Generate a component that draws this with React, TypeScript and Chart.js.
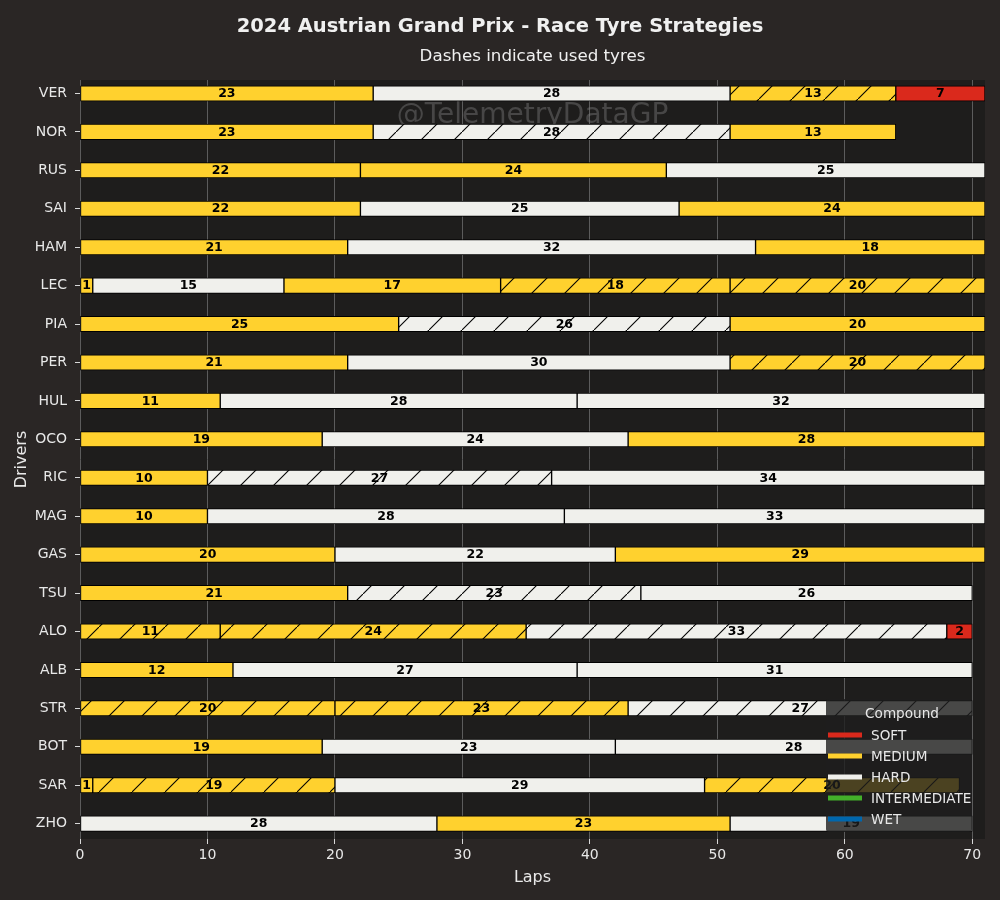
import React, { useEffect, useRef } from 'react';
import { Chart, registerables } from 'chart.js';

Chart.register(...registerables);

const drivers = ['VER', 'NOR', 'RUS', 'SAI', 'HAM', 'LEC', 'PIA', 'PER', 'HUL', 'OCO', 'RIC', 'MAG', 'GAS', 'TSU', 'ALO', 'ALB', 'STR', 'BOT', 'SAR', 'ZHO'];

const stintLaps = [
  [23, 28, 13, 7],
  [23, 28, 13],
  [22, 24, 25],
  [22, 25, 24],
  [21, 32, 18],
  [1, 15, 17, 18, 20],
  [25, 26, 20],
  [21, 30, 20],
  [11, 28, 32],
  [19, 24, 28],
  [10, 27, 34],
  [10, 28, 33],
  [20, 22, 29],
  [21, 23, 26],
  [11, 24, 33, 2],
  [12, 27, 31],
  [20, 23, 27],
  [19, 23, 28],
  [1, 19, 29, 20],
  [28, 23, 19],
];

const stintCompounds = [
  ['MEDIUM', 'HARD', 'MEDIUM', 'SOFT'],
  ['MEDIUM', 'HARD', 'MEDIUM'],
  ['MEDIUM', 'MEDIUM', 'HARD'],
  ['MEDIUM', 'HARD', 'MEDIUM'],
  ['MEDIUM', 'HARD', 'MEDIUM'],
  ['MEDIUM', 'HARD', 'MEDIUM', 'MEDIUM', 'MEDIUM'],
  ['MEDIUM', 'HARD', 'MEDIUM'],
  ['MEDIUM', 'HARD', 'MEDIUM'],
  ['MEDIUM', 'HARD', 'HARD'],
  ['MEDIUM', 'HARD', 'MEDIUM'],
  ['MEDIUM', 'HARD', 'HARD'],
  ['MEDIUM', 'HARD', 'HARD'],
  ['MEDIUM', 'HARD', 'MEDIUM'],
  ['MEDIUM', 'HARD', 'HARD'],
  ['MEDIUM', 'MEDIUM', 'HARD', 'SOFT'],
  ['MEDIUM', 'HARD', 'HARD'],
  ['MEDIUM', 'MEDIUM', 'HARD'],
  ['MEDIUM', 'HARD', 'HARD'],
  ['MEDIUM', 'MEDIUM', 'HARD', 'MEDIUM'],
  ['HARD', 'MEDIUM', 'HARD'],
];

const stintUsed = [
  [0, 0, 1, 0],
  [0, 1, 0],
  [0, 0, 0],
  [0, 0, 0],
  [0, 0, 0],
  [0, 0, 0, 1, 1],
  [0, 1, 0],
  [0, 0, 1],
  [0, 0, 0],
  [0, 0, 0],
  [0, 1, 0],
  [0, 0, 0],
  [0, 0, 0],
  [0, 1, 0],
  [1, 1, 1, 0],
  [0, 0, 0],
  [1, 1, 1],
  [0, 0, 0],
  [0, 1, 0, 1],
  [0, 0, 0],
];

const compoundNames = ['SOFT', 'MEDIUM', 'HARD', 'INTERMEDIATE', 'WET'];
const compoundColors = ['#DA291C', '#FFD12E', '#F0F0EC', '#43B02A', '#0067AD'];
const xTicks = [0, 10, 20, 30, 40, 50, 60, 70];
const lapMax = 71;

const FONT = "'DejaVu Sans', sans-serif";
const OUTER_BG = '#2a2625';
const PLOT_BG = '#1e1d1c';
const TEXT = '#e8e8e8';

export default function App() {
  const ref = useRef<HTMLCanvasElement>(null);

  useEffect(() => {
    const canvas = ref.current;
    if (!canvas) return;
    Chart.defaults.font.family = FONT;

    const patternCache: Record<string, CanvasPattern | string> = {};
    const colorOf = (c: string) => compoundColors[compoundNames.indexOf(c)] || '#888';
    const fillFor = (c: string, used: number) => {
      const base = colorOf(c);
      if (!used) return base;
      const key = c;
      if (patternCache[key]) return patternCache[key];
      const S = 33;
      const tile = document.createElement('canvas');
      tile.width = S;
      tile.height = S;
      const tc = tile.getContext('2d')!;
      tc.fillStyle = base;
      tc.fillRect(0, 0, S, S);
      tc.strokeStyle = '#000';
      tc.lineWidth = 1.1;
      tc.beginPath();
      tc.moveTo(-2, S + 2);
      tc.lineTo(S + 2, -2);
      tc.stroke();
      const ctx2 = canvas.getContext('2d')!;
      const pat = ctx2.createPattern(tile, 'repeat') || base;
      patternCache[key] = pat;
      return pat;
    };

    const maxStints = Math.max(...stintLaps.map((s) => s.length));
    const datasets: any[] = [];
    for (let k = 0; k < maxStints; k++) {
      const data: any[] = [];
      drivers.forEach((d, i) => {
        const laps = stintLaps[i];
        if (k < laps.length) {
          const start = laps.slice(0, k).reduce((a, b) => a + b, 0);
          data.push({ x: [start, start + laps[k]], y: i, c: stintCompounds[i][k], u: stintUsed[i][k], n: laps[k] });
        }
      });
      datasets.push({
        label: 'Stint ' + (k + 1),
        data,
        grouped: false,
        barThickness: 15.4,
        borderWidth: 1,
        borderColor: '#000',
        borderSkipped: false,
        backgroundColor: (ctx: any) => (ctx.raw ? fillFor(ctx.raw.c, ctx.raw.u) : '#000'),
      });
    }

    const bgPlugin = {
      id: 'bgPlugin',
      beforeDraw(chart: any) {
        const { ctx, chartArea, width, height } = chart;
        ctx.save();
        ctx.fillStyle = OUTER_BG;
        ctx.fillRect(0, 0, width, height);
        ctx.fillStyle = PLOT_BG;
        ctx.fillRect(chartArea.left, chartArea.top, chartArea.right - chartArea.left, chartArea.bottom - chartArea.top);
        ctx.restore();
      },
      beforeDatasetsDraw(chart: any) {
        const { ctx, chartArea } = chart;
        ctx.save();
        ctx.font = `28px ${FONT}`;
        ctx.fillStyle = 'rgba(128,128,128,0.42)';
        ctx.textAlign = 'center';
        ctx.textBaseline = 'alphabetic';
        ctx.fillText('@TelemetryDataGP', (chartArea.left + chartArea.right) / 2, chartArea.top + 43);
        ctx.restore();
      },
    };

    const labelPlugin = {
      id: 'labelPlugin',
      afterDatasetsDraw(chart: any) {
        const { ctx } = chart;
        ctx.save();
        ctx.font = `bold 12.5px ${FONT}`;
        ctx.fillStyle = '#000';
        ctx.textAlign = 'center';
        ctx.textBaseline = 'middle';
        chart.data.datasets.forEach((ds: any, di: number) => {
          const meta = chart.getDatasetMeta(di);
          meta.data.forEach((el: any, j: number) => {
            const raw = ds.data[j];
            const p = el.getCenterPoint();
            ctx.fillText(String(raw.n), p.x, p.y + 0.5);
          });
        });
        ctx.restore();
      },
    };

    const legendPlugin = {
      id: 'legendPlugin',
      afterDraw(chart: any) {
        const { ctx, chartArea } = chart;
        const right = chartArea.right - 13;
        const bottom = chartArea.bottom - 7;
        const w = 146;
        const h = 133;
        const left = right - w;
        const top = bottom - h;
        ctx.save();
        ctx.fillStyle = 'rgba(30,30,30,0.8)';
        ctx.beginPath();
        (ctx as any).roundRect(left, top, w, h, 3);
        ctx.fill();
        ctx.fillStyle = TEXT;
        ctx.font = `13.6px ${FONT}`;
        ctx.textAlign = 'center';
        ctx.textBaseline = 'middle';
        ctx.fillText('Compound', left + w / 2 + 3, top + 15);
        ctx.textAlign = 'left';
        compoundNames.forEach((name, i) => {
          const y = top + 36 + i * 21;
          ctx.fillStyle = compoundColors[i];
          ctx.fillRect(left + 2, y - 2.5, 34, 5);
          ctx.fillStyle = TEXT;
          ctx.fillText(name, left + 45, y + 1);
        });
        ctx.restore();
      },
    };

    const titlePlugin = {
      id: 'titlePlugin',
      afterDraw(chart: any) {
        const { ctx, chartArea, width } = chart;
        ctx.save();
        ctx.fillStyle = '#f0f0f0';
        ctx.textAlign = 'center';
        ctx.textBaseline = 'middle';
        ctx.font = `bold 19.5px ${FONT}`;
        ctx.fillText('2024 Austrian Grand Prix - Race Tyre Strategies', width / 2, 27);
        ctx.font = `16.7px ${FONT}`;
        ctx.fillText('Dashes indicate used tyres', (chartArea.left + chartArea.right) / 2, 57);
        ctx.restore();
      },
    };

    const chart = new Chart(canvas, {
      type: 'bar',
      data: { datasets },
      options: {
        indexAxis: 'y',
        animation: false,
        responsive: false,
        devicePixelRatio: 1,
        layout: { padding: { top: 80, right: 15, bottom: 0, left: 0 } },
        plugins: {
          legend: { display: false },
          tooltip: { enabled: false },
          title: { display: false },
        },
        scales: {
          x: {
            type: 'linear',
            position: 'bottom',
            min: 0,
            max: lapMax,
            offset: false,
            afterFit: (s: any) => {
              s.height = 61;
            },
            afterBuildTicks: (s: any) => {
              s.ticks = xTicks.map((v) => ({ value: v }));
            },
            ticks: { color: TEXT, font: { size: 14 }, padding: 3 },
            grid: { color: '#5c5c5c', tickColor: '#d8d8d8', tickLength: 5, lineWidth: 1, offset: false },
            border: { display: false },
            title: { display: true, text: 'Laps', color: TEXT, font: { size: 16 }, padding: { top: 0, bottom: 13 } },
          },
          y: {
            type: 'linear',
            reverse: true,
            min: -0.35,
            max: 19.4,
            offset: false,
            afterFit: (s: any) => {
              s.width = 80;
            },
            afterBuildTicks: (s: any) => {
              s.ticks = drivers.map((_, i) => ({ value: i }));
            },
            ticks: {
              color: TEXT,
              font: { size: 14 },
              padding: 8,
              callback: (v: any) => drivers[v] ?? '',
            },
            grid: { drawOnChartArea: false, tickColor: '#d8d8d8', tickLength: 5, offset: false },
            border: { display: false },
            title: { display: true, text: 'Drivers', color: TEXT, font: { size: 16 }, padding: { top: 12, bottom: 0 } },
          },
        },
      } as any,
      plugins: [bgPlugin, labelPlugin, legendPlugin, titlePlugin],
    });

    return () => chart.destroy();
  }, []);

  return (
    <div style={{ position: 'absolute', left: 0, top: 0, width: 1000, height: 900, background: OUTER_BG }}>
      <canvas ref={ref} width={1000} height={900} style={{ display: 'block', width: 1000, height: 900 }} />
    </div>
  );
}
